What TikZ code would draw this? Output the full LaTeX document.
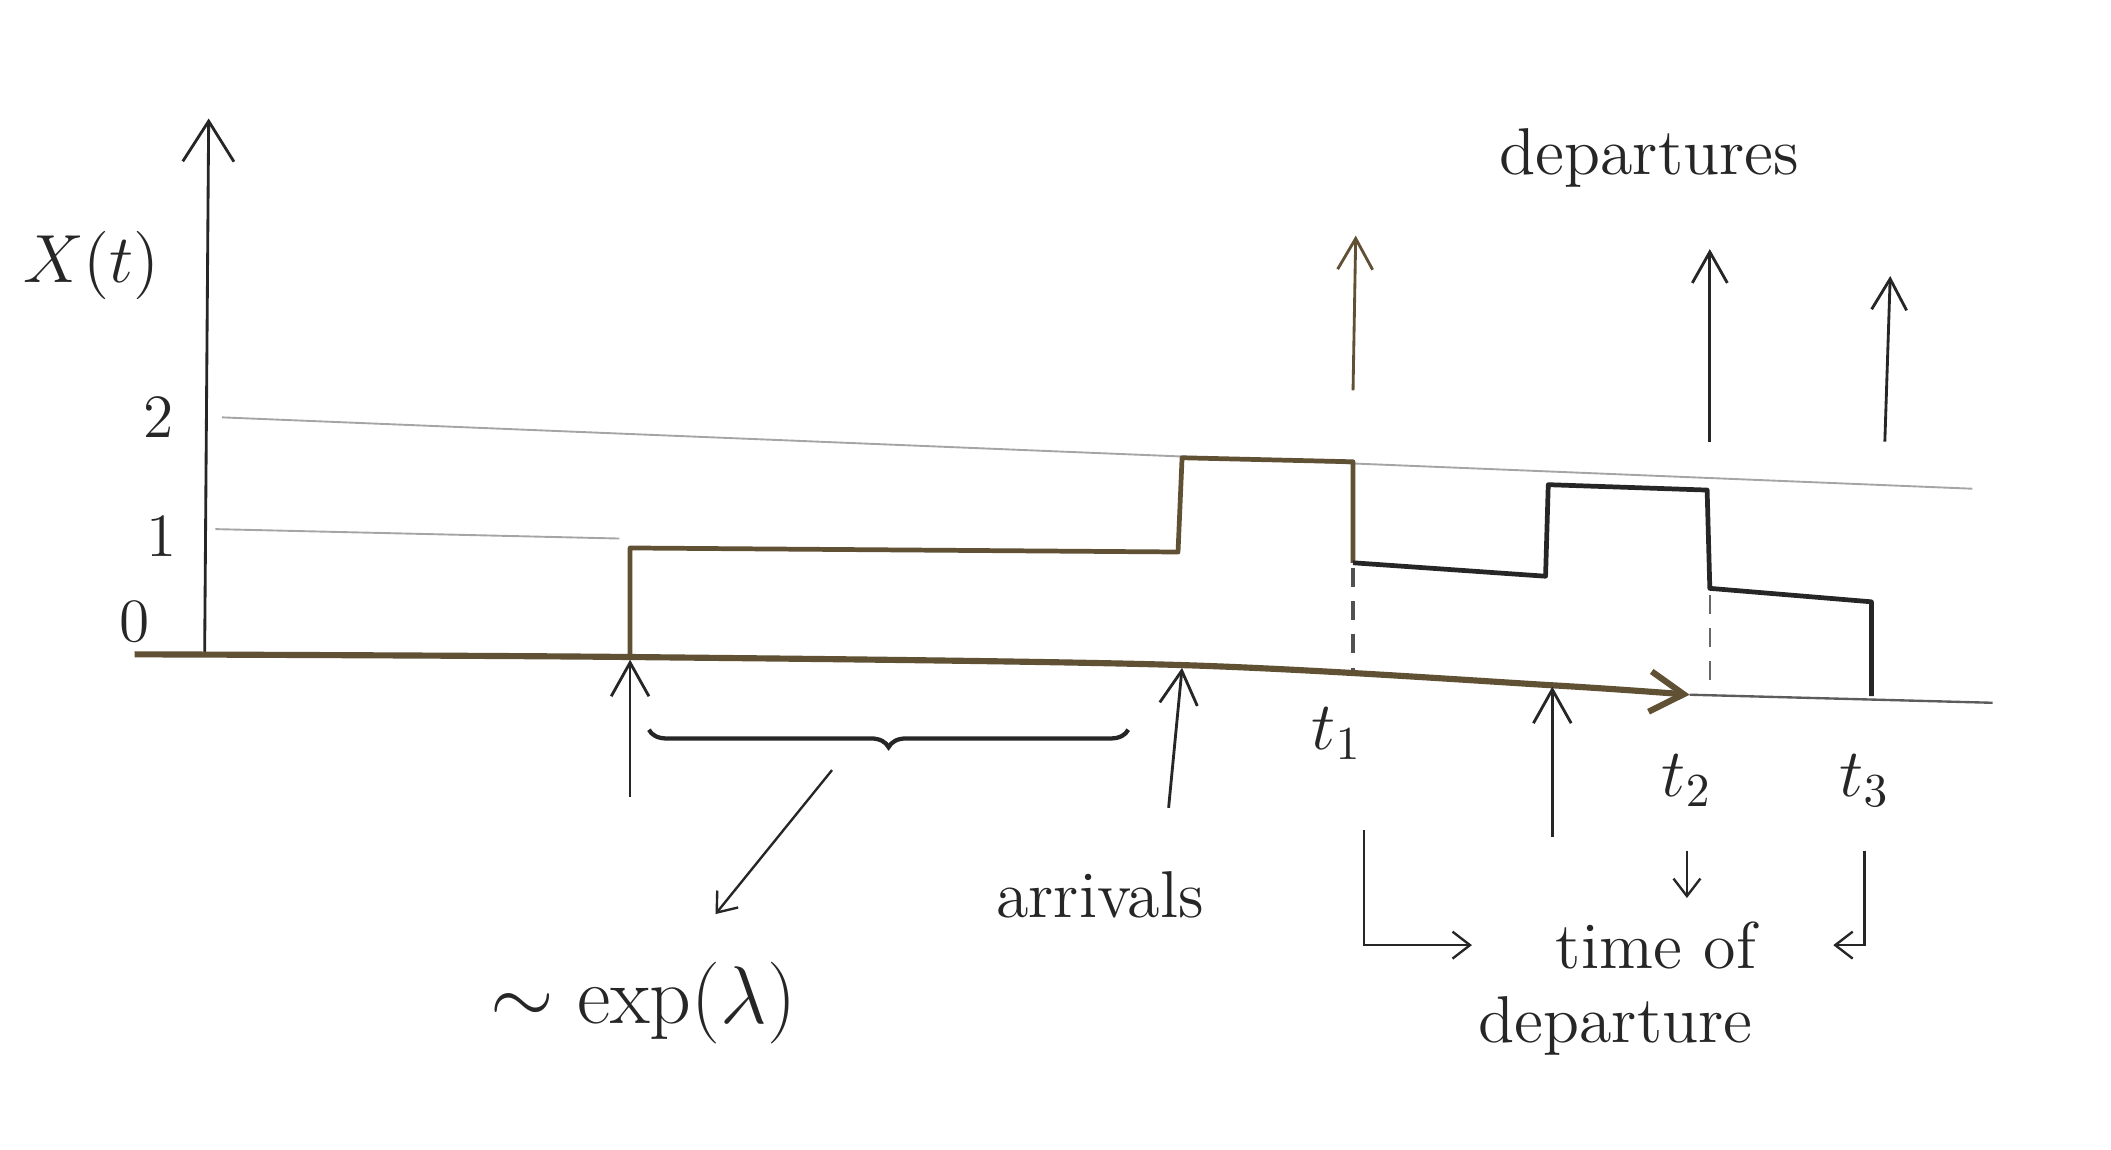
\documentclass[tikz,border=0pt]{standalone}
\usepackage{tikz}
\usetikzlibrary{arrows.meta,decorations.pathreplacing}
\definecolor{inkbrown}{RGB}{96,80,52}
\definecolor{ink}{RGB}{38,38,38}
\definecolor{pencil}{RGB}{165,165,165}
\tikzset{
	lbl/.style={text=ink, font=\fontsize{14}{16}\selectfont},
	ticklbl/.style={text=ink, font=\fontsize{13}{15}\selectfont},
	levelline/.style={line width=0.4pt, color=pencil},
	jump/.style={line width=1pt, line join=round},
	arrival/.style={line width=0.6pt, color=ink, -{Straight Barb[length=2.5mm,width=2.8mm]}},
	departure/.style={line width=0.6pt, color=ink, -{Straight Barb[length=2.3mm,width=2.6mm]}},
	pointer/.style={line width=0.5pt, color=ink, -{Straight Barb[length=1.3mm,width=2mm]}}
}

\begin{document}
\begin{tikzpicture}
			%%%%% FRAME %%%%%
			\useasboundingbox (0,0) rectangle (15.68,-8.54);
			
			% axes
			\draw[line width=0.6pt, color=ink, -{Straight Barb[length=3mm,width=3.8mm]}] (1.52,-4.87) -- (1.55,-0.88);
			\draw[line width=1.3pt, color=inkbrown, -{Straight Barb[length=2.5mm,width=3mm]}] plot[smooth, tension=0.5] coordinates {(1.00,-4.86) (4.68,-4.88) (8.78,-4.94) (11.53,-5.09) (12.55,-5.16)};
			\draw[line width=0.5pt, color=ink!75] (12.55,-5.16) -- (14.80,-5.22);
			\node[lbl] (xt) at (0.68,-1.97) {$X(t)$};
			
			% levels
			\draw[levelline] (1.65,-3.10) -- (14.65,-3.63);
			\draw[levelline] (1.60,-3.93) -- (4.60,-4.00);
			\node[ticklbl] (lvltwo) at (1.18,-3.10) {2};
			\node[ticklbl] (lvlone) at (1.20,-3.98) {1};
			\node[ticklbl] (lvlzero) at (1.00,-4.62) {0};
			
			% sample path
			\draw[jump, color=inkbrown] (4.68,-4.88) -- (4.68,-4.07) -- (8.75,-4.10) -- (8.78,-3.40) -- (10.05,-3.43) -- (10.05,-4.18);
			\draw[jump, color=ink] (10.05,-4.18) -- (11.48,-4.28) -- (11.50,-3.60) -- (12.68,-3.64) -- (12.70,-4.37) -- (13.90,-4.47) -- (13.90,-5.17);
			\draw[line width=0.8pt, color=ink!80, dash pattern=on 4pt off 3pt] (10.05,-4.22) -- (10.05,-4.98);
			\draw[line width=0.5pt, color=ink!70, dash pattern=on 4pt off 3pt] (12.70,-4.42) -- (12.70,-5.15);
			
			% arrivals
			\draw[arrival] (4.68,-5.92) -- (4.68,-4.90);
			\draw[arrival] (8.68,-6.00) -- (8.78,-4.96);
			\draw[arrival] (11.53,-6.22) -- (11.53,-5.10);
			\node[lbl] (arr) at (8.17,-6.65) {arrivals};
			
			\draw[line width=0.9pt, color=ink, decorate, decoration={brace, amplitude=1.3mm, mirror}] (4.82,-5.42) -- (8.38,-5.42);
			\coordinate (gap) at (6.18,-5.72);
			\node[lbl, font=\fontsize{17}{20}\selectfont] (expo) at (4.78,-7.45) {$\sim\exp\bigl(\lambda\bigr)$};
			\draw[pointer, shorten >=0.3cm] (gap) -- (expo);
			
			% departures
			\draw[departure, color=inkbrown] (10.05,-2.90) -- (10.07,-1.75);
			\draw[departure] (12.70,-3.28) -- (12.70,-1.85);
			\draw[departure] (14.00,-3.28) -- (14.04,-2.05);
			\node[lbl] (dep) at (12.25,-1.17) {departures};
			
			\node[lbl] (t1) at (9.93,-5.45) {$t_1$};
			\node[lbl] (t2) at (12.53,-5.80) {$t_2$};
			\node[lbl] (t3) at (13.85,-5.80) {$t_3$};
			\node[lbl] (tof) at (12.30,-7.02) {time of};
			\node[lbl] (tofb) at (12.00,-7.62) {departure};
			\draw[pointer, shorten <=0.4cm] ([xshift=0.2cm]t1.south) |- ([xshift=-0.5cm]tof.west);
			\draw[pointer, shorten <=0.2cm, shorten >=0.05cm] (t2.south) -- (t2.south |- tof.north);
			\draw[pointer, shorten <=0.2cm] (t3.south) |- ([xshift=0.45cm]tof.east);
			
			%%%%% END %%%%%
\end{tikzpicture}
\end{document}
